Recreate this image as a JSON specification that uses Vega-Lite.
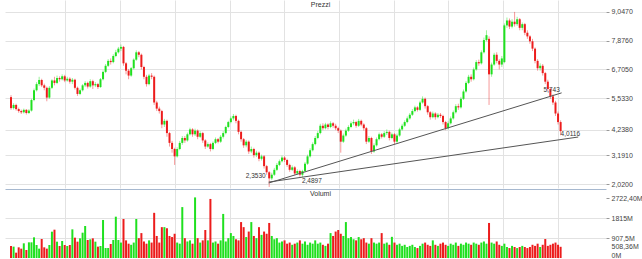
{
"$schema": "https://vega.github.io/schema/vega-lite/v6.json",
"padding": {"left": 5, "top": 0, "right": 0, "bottom": 0},
"background": "white",
"spacing": 1,
"config": {"view": {"stroke": null}, "font": "Liberation Sans"},
"datasets": {
"candles": [
{"i":0,"o":5.57,"h":5.65,"l":5.05,"c":5.12,"v":545},
{"i":1,"o":5.12,"h":5.32,"l":5.06,"c":5.25,"v":515},
{"i":2,"o":5.25,"h":5.30,"l":5.02,"c":5.08,"v":242},
{"i":3,"o":5.08,"h":5.14,"l":4.93,"c":5.00,"v":484},
{"i":4,"o":5.00,"h":5.06,"l":4.88,"c":4.95,"v":424},
{"i":5,"o":4.95,"h":5.10,"l":4.90,"c":5.05,"v":666},
{"i":6,"o":5.05,"h":5.08,"l":4.86,"c":4.92,"v":363},
{"i":7,"o":4.92,"h":5.08,"l":4.88,"c":5.02,"v":711},
{"i":8,"o":5.02,"h":5.50,"l":4.98,"c":5.45,"v":711},
{"i":9,"o":5.45,"h":5.92,"l":5.40,"c":5.85,"v":938},
{"i":10,"o":5.85,"h":6.18,"l":5.80,"c":6.10,"v":590},
{"i":11,"o":6.10,"h":6.40,"l":6.02,"c":6.27,"v":424},
{"i":12,"o":6.27,"h":6.32,"l":5.98,"c":6.05,"v":862},
{"i":13,"o":6.05,"h":6.12,"l":5.85,"c":5.95,"v":484},
{"i":14,"o":5.95,"h":6.00,"l":5.40,"c":5.55,"v":424},
{"i":15,"o":5.55,"h":6.02,"l":5.50,"c":5.95,"v":590},
{"i":16,"o":5.95,"h":6.30,"l":5.90,"c":6.25,"v":1194},
{"i":17,"o":6.25,"h":6.40,"l":6.05,"c":6.15,"v":1285},
{"i":18,"o":6.15,"h":6.45,"l":6.10,"c":6.35,"v":741},
{"i":19,"o":6.35,"h":6.42,"l":6.20,"c":6.30,"v":545},
{"i":20,"o":6.30,"h":6.50,"l":6.25,"c":6.42,"v":771},
{"i":21,"o":6.42,"h":6.48,"l":6.18,"c":6.25,"v":590},
{"i":22,"o":6.25,"h":6.40,"l":6.20,"c":6.32,"v":545},
{"i":23,"o":6.32,"h":6.38,"l":6.12,"c":6.20,"v":590},
{"i":24,"o":6.20,"h":6.35,"l":6.10,"c":6.28,"v":1300},
{"i":25,"o":6.28,"h":6.32,"l":5.88,"c":5.95,"v":922},
{"i":26,"o":5.95,"h":6.00,"l":5.62,"c":5.70,"v":741},
{"i":27,"o":5.70,"h":5.92,"l":5.65,"c":5.85,"v":892},
{"i":28,"o":5.85,"h":6.10,"l":5.80,"c":6.05,"v":1149},
{"i":29,"o":6.05,"h":6.22,"l":5.98,"c":6.15,"v":1452},
{"i":30,"o":6.15,"h":6.20,"l":5.92,"c":6.00,"v":817},
{"i":31,"o":6.00,"h":6.30,"l":5.95,"c":6.22,"v":847},
{"i":32,"o":6.22,"h":6.28,"l":5.90,"c":6.05,"v":892},
{"i":33,"o":6.05,"h":6.18,"l":5.98,"c":6.10,"v":741},
{"i":34,"o":6.10,"h":6.15,"l":5.90,"c":5.98,"v":515},
{"i":35,"o":5.98,"h":6.35,"l":5.95,"c":6.30,"v":545},
{"i":36,"o":6.30,"h":6.66,"l":6.25,"c":6.60,"v":1724},
{"i":37,"o":6.60,"h":6.92,"l":6.55,"c":6.85,"v":454},
{"i":38,"o":6.85,"h":7.12,"l":6.80,"c":7.05,"v":454},
{"i":39,"o":7.05,"h":7.15,"l":6.90,"c":7.00,"v":635},
{"i":40,"o":7.00,"h":7.32,"l":6.95,"c":7.25,"v":817},
{"i":41,"o":7.25,"h":7.50,"l":7.20,"c":7.40,"v":1875},
{"i":42,"o":7.40,"h":7.62,"l":7.35,"c":7.55,"v":817},
{"i":43,"o":7.55,"h":7.72,"l":7.45,"c":7.62,"v":700},
{"i":44,"o":7.62,"h":7.66,"l":6.85,"c":6.95,"v":1770},
{"i":45,"o":6.95,"h":7.00,"l":6.50,"c":6.65,"v":800},
{"i":46,"o":6.65,"h":6.72,"l":6.30,"c":6.45,"v":650},
{"i":47,"o":6.45,"h":6.80,"l":6.40,"c":6.75,"v":600},
{"i":48,"o":6.75,"h":7.15,"l":6.70,"c":7.10,"v":700},
{"i":49,"o":7.10,"h":7.48,"l":7.05,"c":7.40,"v":1770},
{"i":50,"o":7.40,"h":7.45,"l":7.20,"c":7.30,"v":900},
{"i":51,"o":7.30,"h":7.35,"l":6.70,"c":6.80,"v":1130},
{"i":52,"o":6.80,"h":6.85,"l":6.30,"c":6.40,"v":750},
{"i":53,"o":6.40,"h":6.48,"l":6.00,"c":6.10,"v":650},
{"i":54,"o":6.10,"h":6.52,"l":6.05,"c":6.45,"v":800},
{"i":55,"o":6.45,"h":6.55,"l":6.30,"c":6.40,"v":700},
{"i":56,"o":6.40,"h":6.45,"l":5.25,"c":5.35,"v":2050},
{"i":57,"o":5.35,"h":5.42,"l":5.00,"c":5.10,"v":1000},
{"i":58,"o":5.10,"h":5.18,"l":4.90,"c":5.00,"v":700},
{"i":59,"o":5.00,"h":5.05,"l":4.30,"c":4.45,"v":1400},
{"i":60,"o":4.45,"h":4.68,"l":4.35,"c":4.60,"v":1400},
{"i":61,"o":4.60,"h":4.65,"l":3.95,"c":4.10,"v":1350},
{"i":62,"o":4.10,"h":4.15,"l":3.55,"c":3.70,"v":1000},
{"i":63,"o":3.70,"h":3.78,"l":3.30,"c":3.45,"v":950},
{"i":64,"o":3.45,"h":3.50,"l":2.80,"c":3.15,"v":1100},
{"i":65,"o":3.15,"h":3.52,"l":3.10,"c":3.45,"v":700},
{"i":66,"o":3.45,"h":3.78,"l":3.40,"c":3.70,"v":650},
{"i":67,"o":3.70,"h":3.98,"l":3.62,"c":3.90,"v":2310},
{"i":68,"o":3.90,"h":3.98,"l":3.70,"c":3.80,"v":900},
{"i":69,"o":3.80,"h":4.12,"l":3.75,"c":4.05,"v":750},
{"i":70,"o":4.05,"h":4.32,"l":4.00,"c":4.25,"v":800},
{"i":71,"o":4.25,"h":4.30,"l":3.95,"c":4.05,"v":650},
{"i":72,"o":4.05,"h":4.28,"l":3.98,"c":4.20,"v":2750},
{"i":73,"o":4.20,"h":4.25,"l":3.85,"c":3.95,"v":900},
{"i":74,"o":3.95,"h":4.18,"l":3.90,"c":4.10,"v":700},
{"i":75,"o":4.10,"h":4.15,"l":3.70,"c":3.80,"v":800},
{"i":76,"o":3.80,"h":3.85,"l":3.45,"c":3.55,"v":1270},
{"i":77,"o":3.55,"h":3.72,"l":3.50,"c":3.65,"v":800},
{"i":78,"o":3.65,"h":3.70,"l":3.35,"c":3.45,"v":2680},
{"i":79,"o":3.45,"h":3.76,"l":3.40,"c":3.70,"v":700},
{"i":80,"o":3.70,"h":3.92,"l":3.65,"c":3.85,"v":750},
{"i":81,"o":3.85,"h":3.90,"l":3.68,"c":3.75,"v":650},
{"i":82,"o":3.75,"h":4.02,"l":3.70,"c":3.95,"v":800},
{"i":83,"o":3.95,"h":4.18,"l":3.88,"c":4.10,"v":2000},
{"i":84,"o":4.10,"h":4.40,"l":4.05,"c":4.35,"v":750},
{"i":85,"o":4.35,"h":4.60,"l":4.30,"c":4.55,"v":900},
{"i":86,"o":4.55,"h":4.78,"l":4.50,"c":4.70,"v":1130},
{"i":87,"o":4.70,"h":4.88,"l":4.62,"c":4.80,"v":1000},
{"i":88,"o":4.80,"h":4.85,"l":4.50,"c":4.60,"v":850},
{"i":89,"o":4.60,"h":4.65,"l":4.05,"c":4.15,"v":800},
{"i":90,"o":4.15,"h":4.20,"l":3.75,"c":3.85,"v":1630},
{"i":91,"o":3.85,"h":3.90,"l":3.50,"c":3.60,"v":1400},
{"i":92,"o":3.60,"h":3.82,"l":3.52,"c":3.75,"v":950},
{"i":93,"o":3.75,"h":3.80,"l":3.25,"c":3.35,"v":1200},
{"i":94,"o":3.35,"h":3.55,"l":3.28,"c":3.45,"v":1630},
{"i":95,"o":3.45,"h":3.50,"l":3.10,"c":3.20,"v":1000},
{"i":96,"o":3.20,"h":3.38,"l":3.12,"c":3.30,"v":900},
{"i":97,"o":3.30,"h":3.35,"l":2.95,"c":3.05,"v":1400},
{"i":98,"o":3.05,"h":3.22,"l":2.98,"c":3.15,"v":1050},
{"i":99,"o":3.15,"h":3.20,"l":2.65,"c":2.75,"v":1200},
{"i":100,"o":2.75,"h":2.80,"l":2.40,"c":2.50,"v":1100},
{"i":101,"o":2.50,"h":2.55,"l":1.90,"c":2.25,"v":1590},
{"i":102,"o":2.25,"h":2.48,"l":2.18,"c":2.40,"v":1000},
{"i":103,"o":2.40,"h":2.68,"l":2.35,"c":2.60,"v":850},
{"i":104,"o":2.60,"h":2.88,"l":2.55,"c":2.80,"v":900},
{"i":105,"o":2.80,"h":3.02,"l":2.75,"c":2.95,"v":700},
{"i":106,"o":2.95,"h":3.18,"l":2.90,"c":3.10,"v":750},
{"i":107,"o":3.10,"h":3.15,"l":2.92,"c":3.00,"v":800},
{"i":108,"o":3.00,"h":3.05,"l":2.72,"c":2.80,"v":650},
{"i":109,"o":2.80,"h":2.85,"l":2.52,"c":2.60,"v":700},
{"i":110,"o":2.60,"h":2.78,"l":2.55,"c":2.70,"v":600},
{"i":111,"o":2.70,"h":2.75,"l":2.38,"c":2.45,"v":650},
{"i":112,"o":2.45,"h":2.62,"l":2.40,"c":2.55,"v":700},
{"i":113,"o":2.55,"h":2.60,"l":2.32,"c":2.40,"v":800},
{"i":114,"o":2.40,"h":2.60,"l":2.30,"c":2.55,"v":650},
{"i":115,"o":2.55,"h":2.92,"l":2.50,"c":2.85,"v":750},
{"i":116,"o":2.85,"h":3.22,"l":2.80,"c":3.15,"v":600},
{"i":117,"o":3.15,"h":3.48,"l":3.10,"c":3.40,"v":700},
{"i":118,"o":3.40,"h":3.72,"l":3.35,"c":3.65,"v":650},
{"i":119,"o":3.65,"h":3.98,"l":3.60,"c":3.90,"v":800},
{"i":120,"o":3.90,"h":4.18,"l":3.85,"c":4.10,"v":650},
{"i":121,"o":4.10,"h":4.48,"l":4.05,"c":4.40,"v":700},
{"i":122,"o":4.40,"h":4.50,"l":4.22,"c":4.30,"v":600},
{"i":123,"o":4.30,"h":4.52,"l":4.25,"c":4.45,"v":550},
{"i":124,"o":4.45,"h":4.50,"l":4.25,"c":4.35,"v":650},
{"i":125,"o":4.35,"h":4.58,"l":4.30,"c":4.50,"v":1130},
{"i":126,"o":4.50,"h":4.55,"l":4.32,"c":4.40,"v":1000},
{"i":127,"o":4.40,"h":4.48,"l":4.22,"c":4.30,"v":1200},
{"i":128,"o":4.30,"h":4.36,"l":4.10,"c":4.20,"v":1270},
{"i":129,"o":4.20,"h":4.25,"l":3.30,"c":3.75,"v":1100},
{"i":130,"o":3.75,"h":4.08,"l":3.70,"c":4.00,"v":1000},
{"i":131,"o":4.00,"h":4.28,"l":3.95,"c":4.20,"v":1630},
{"i":132,"o":4.20,"h":4.42,"l":4.15,"c":4.35,"v":900},
{"i":133,"o":4.35,"h":4.58,"l":4.30,"c":4.50,"v":950},
{"i":134,"o":4.50,"h":4.65,"l":4.42,"c":4.55,"v":850},
{"i":135,"o":4.55,"h":4.60,"l":4.32,"c":4.40,"v":800},
{"i":136,"o":4.40,"h":4.68,"l":4.35,"c":4.60,"v":950},
{"i":137,"o":4.60,"h":4.65,"l":4.38,"c":4.45,"v":850},
{"i":138,"o":4.45,"h":4.50,"l":4.20,"c":4.30,"v":900},
{"i":139,"o":4.30,"h":4.35,"l":3.65,"c":3.75,"v":700},
{"i":140,"o":3.75,"h":3.98,"l":3.70,"c":3.90,"v":650},
{"i":141,"o":3.90,"h":3.95,"l":3.25,"c":3.35,"v":900},
{"i":142,"o":3.35,"h":3.68,"l":3.30,"c":3.60,"v":700},
{"i":143,"o":3.60,"h":3.92,"l":3.55,"c":3.85,"v":650},
{"i":144,"o":3.85,"h":4.12,"l":3.80,"c":4.05,"v":700},
{"i":145,"o":4.05,"h":4.10,"l":3.88,"c":3.95,"v":1130},
{"i":146,"o":3.95,"h":4.18,"l":3.90,"c":4.10,"v":650},
{"i":147,"o":4.10,"h":4.25,"l":4.02,"c":4.15,"v":700},
{"i":148,"o":4.15,"h":4.20,"l":3.80,"c":3.90,"v":600},
{"i":149,"o":3.90,"h":4.12,"l":3.85,"c":4.05,"v":960},
{"i":150,"o":4.05,"h":4.10,"l":3.65,"c":3.75,"v":700},
{"i":151,"o":3.75,"h":4.08,"l":3.70,"c":4.00,"v":600},
{"i":152,"o":4.00,"h":4.32,"l":3.95,"c":4.25,"v":650},
{"i":153,"o":4.25,"h":4.48,"l":4.20,"c":4.40,"v":550},
{"i":154,"o":4.40,"h":4.62,"l":4.35,"c":4.55,"v":600},
{"i":155,"o":4.55,"h":4.78,"l":4.50,"c":4.70,"v":500},
{"i":156,"o":4.70,"h":4.92,"l":4.65,"c":4.85,"v":550},
{"i":157,"o":4.85,"h":5.08,"l":4.80,"c":5.00,"v":600},
{"i":158,"o":5.00,"h":5.22,"l":4.95,"c":5.15,"v":500},
{"i":159,"o":5.15,"h":5.20,"l":4.98,"c":5.05,"v":450},
{"i":160,"o":5.05,"h":5.42,"l":5.00,"c":5.35,"v":550},
{"i":161,"o":5.35,"h":5.60,"l":5.30,"c":5.50,"v":650},
{"i":162,"o":5.50,"h":5.55,"l":5.10,"c":5.20,"v":700},
{"i":163,"o":5.20,"h":5.25,"l":4.85,"c":4.95,"v":600},
{"i":164,"o":4.95,"h":5.00,"l":4.65,"c":4.75,"v":550},
{"i":165,"o":4.75,"h":4.98,"l":4.70,"c":4.90,"v":800},
{"i":166,"o":4.90,"h":4.95,"l":4.65,"c":4.75,"v":600},
{"i":167,"o":4.75,"h":4.92,"l":4.70,"c":4.85,"v":550},
{"i":168,"o":4.85,"h":4.92,"l":4.72,"c":4.80,"v":650},
{"i":169,"o":4.80,"h":4.85,"l":4.45,"c":4.55,"v":700},
{"i":170,"o":4.55,"h":4.60,"l":4.22,"c":4.30,"v":600},
{"i":171,"o":4.30,"h":4.58,"l":4.25,"c":4.50,"v":550},
{"i":172,"o":4.50,"h":4.78,"l":4.45,"c":4.70,"v":650},
{"i":173,"o":4.70,"h":5.02,"l":4.65,"c":4.95,"v":600},
{"i":174,"o":4.95,"h":5.28,"l":4.90,"c":5.20,"v":700},
{"i":175,"o":5.20,"h":5.30,"l":5.05,"c":5.15,"v":550},
{"i":176,"o":5.15,"h":5.58,"l":5.10,"c":5.50,"v":650},
{"i":177,"o":5.50,"h":5.88,"l":5.45,"c":5.80,"v":600},
{"i":178,"o":5.80,"h":6.22,"l":5.75,"c":6.15,"v":700},
{"i":179,"o":6.15,"h":6.48,"l":6.10,"c":6.40,"v":650},
{"i":180,"o":6.40,"h":6.50,"l":6.20,"c":6.30,"v":600},
{"i":181,"o":6.30,"h":6.78,"l":6.25,"c":6.70,"v":700},
{"i":182,"o":6.70,"h":7.08,"l":6.65,"c":7.00,"v":650},
{"i":183,"o":7.00,"h":7.10,"l":6.85,"c":6.95,"v":600},
{"i":184,"o":6.95,"h":7.48,"l":6.90,"c":7.40,"v":700},
{"i":185,"o":7.40,"h":8.00,"l":7.35,"c":7.90,"v":750},
{"i":186,"o":7.90,"h":8.30,"l":7.85,"c":8.10,"v":650},
{"i":187,"o":7.95,"h":8.05,"l":5.25,"c":6.50,"v":1590},
{"i":188,"o":6.50,"h":6.98,"l":6.40,"c":6.90,"v":700},
{"i":189,"o":6.90,"h":7.38,"l":6.85,"c":7.30,"v":650},
{"i":190,"o":7.30,"h":7.40,"l":6.95,"c":7.05,"v":750},
{"i":191,"o":7.05,"h":7.12,"l":6.70,"c":6.90,"v":600},
{"i":192,"o":6.90,"h":7.25,"l":6.80,"c":7.15,"v":550},
{"i":193,"o":7.00,"h":8.58,"l":6.95,"c":8.50,"v":650},
{"i":194,"o":8.50,"h":8.82,"l":8.40,"c":8.70,"v":500},
{"i":195,"o":8.70,"h":8.78,"l":8.35,"c":8.45,"v":450},
{"i":196,"o":8.45,"h":8.75,"l":8.38,"c":8.65,"v":550},
{"i":197,"o":8.65,"h":9.05,"l":8.45,"c":8.55,"v":500},
{"i":198,"o":8.55,"h":8.85,"l":8.48,"c":8.75,"v":450},
{"i":199,"o":8.75,"h":8.80,"l":8.30,"c":8.40,"v":500},
{"i":200,"o":8.40,"h":8.62,"l":8.30,"c":8.55,"v":550},
{"i":201,"o":8.55,"h":8.60,"l":8.10,"c":8.20,"v":500},
{"i":202,"o":8.20,"h":8.30,"l":7.95,"c":8.05,"v":450},
{"i":203,"o":8.05,"h":8.10,"l":7.75,"c":7.85,"v":500},
{"i":204,"o":7.85,"h":7.95,"l":7.45,"c":7.55,"v":600},
{"i":205,"o":7.55,"h":7.60,"l":6.95,"c":7.05,"v":550},
{"i":206,"o":7.05,"h":7.12,"l":6.65,"c":6.75,"v":650},
{"i":207,"o":6.75,"h":6.95,"l":6.65,"c":6.85,"v":500},
{"i":208,"o":6.85,"h":6.92,"l":6.45,"c":6.55,"v":600},
{"i":209,"o":6.55,"h":6.60,"l":6.10,"c":6.20,"v":860},
{"i":210,"o":6.20,"h":6.28,"l":5.80,"c":5.90,"v":550},
{"i":211,"o":5.90,"h":5.95,"l":5.50,"c":5.60,"v":600},
{"i":212,"o":5.60,"h":5.68,"l":5.25,"c":5.35,"v":650},
{"i":213,"o":5.35,"h":5.42,"l":4.80,"c":4.90,"v":700},
{"i":214,"o":4.90,"h":4.98,"l":4.45,"c":4.55,"v":600},
{"i":215,"o":4.55,"h":4.62,"l":4.0116,"c":4.18,"v":508.36}
],
"lines": [
{"line":"a","i":100.8,"p":2.06},
{"line":"a","i":215.4,"p":5.743},
{"line":"b","i":100.8,"p":2.10},
{"line":"b","i":221.9,"p":3.94}
]
},
"vconcat": [
{
"width": 601,
"height": 188,
"title": {"text": "Prezzi", "fontSize": 7, "fontWeight": "normal", "color": "#333333", "offset": -8, "dx": 15, "font": "Liberation Sans"},
"encoding": {
"x": {"field": "i", "type": "quantitative", "scale": {"domain": [-0.4, 230.8], "nice": false, "zero": false},
"axis": {"title": null, "labels": false, "ticks": false, "domain": false, "grid": true, "gridColor": "#e2e2e2", "tickCount": 20, "values": [21.27, 42.67, 64.07, 85.47, 106.87, 128.27, 149.67, 171.07, 192.47, 213.87]}}
},
"layer": [
{"data": {"name": "candles"}, "mark": {"type": "rule", "strokeWidth": 1, "opacity": 0.45},
"encoding": {
"y": {"field": "l", "type": "quantitative", "title": null, "scale": {"domain": [1.857, 9.537], "nice": false, "zero": false},
"axis": {"orient": "right", "title": null, "tickCount": 20, "values": [2.02, 3.191, 4.238, 5.533, 6.705, 7.876, 9.047], "labelExpr": "replace(format(datum.value, '.4f'), '.', ',')", "grid": true, "gridColor": "#e2e2e2", "domain": false, "ticks": true, "tickSize": 3, "tickColor": "#999999", "labelFontSize": 7, "labelColor": "#444444", "labelPadding": 2, "labelOverlap": false, "labelFont": "Liberation Sans"}},
"y2": {"field": "h"},
"color": {"condition": {"test": "datum.c >= datum.o", "value": "#1fe01f"}, "value": "#ec1c1c"}
}},
{"data": {"name": "candles"}, "mark": {"type": "bar", "width": 2},
"encoding": {
"y": {"field": "o", "type": "quantitative", "title": null, "scale": {"domain": [1.857, 9.537], "nice": false, "zero": false},
"axis": {"orient": "right", "title": null, "tickCount": 20, "values": [2.02, 3.191, 4.238, 5.533, 6.705, 7.876, 9.047], "labelExpr": "replace(format(datum.value, '.4f'), '.', ',')", "grid": true, "gridColor": "#e2e2e2", "domain": false, "ticks": true, "tickSize": 3, "tickColor": "#999999", "labelFontSize": 7, "labelColor": "#444444", "labelPadding": 2, "labelOverlap": false, "labelFont": "Liberation Sans"}},
"y2": {"field": "c"},
"color": {"condition": {"test": "datum.c >= datum.o", "value": "#1fe01f"}, "value": "#ec1c1c"}
}},
{"data": {"name": "lines"}, "mark": {"type": "line", "color": "#555555", "strokeWidth": 1},
"encoding": {
"y": {"field": "p", "type": "quantitative", "title": null, "scale": {"domain": [1.857, 9.537], "nice": false, "zero": false},
"axis": {"orient": "right", "title": null, "tickCount": 20, "values": [2.02, 3.191, 4.238, 5.533, 6.705, 7.876, 9.047], "labelExpr": "replace(format(datum.value, '.4f'), '.', ',')", "grid": true, "gridColor": "#e2e2e2", "domain": false, "ticks": true, "tickSize": 3, "tickColor": "#999999", "labelFontSize": 7, "labelColor": "#444444", "labelPadding": 2, "labelOverlap": false, "labelFont": "Liberation Sans"}},
"detail": {"field": "line"}
}},
{"data": {"values": [{"i": 99.6, "p": 2.35, "t": "2,3530"}]}, "mark": {"type": "text", "fontSize": 6.5, "color": "#333333", "align": "right", "baseline": "middle"},
"encoding": {"y": {"field": "p", "type": "quantitative", "title": null, "scale": {"domain": [1.857, 9.537], "nice": false, "zero": false},
"axis": {"orient": "right", "title": null, "tickCount": 20, "values": [2.02, 3.191, 4.238, 5.533, 6.705, 7.876, 9.047], "labelExpr": "replace(format(datum.value, '.4f'), '.', ',')", "grid": true, "gridColor": "#e2e2e2", "domain": false, "ticks": true, "tickSize": 3, "tickColor": "#999999", "labelFontSize": 7, "labelColor": "#444444", "labelPadding": 2, "labelOverlap": false, "labelFont": "Liberation Sans"}}, "text": {"field": "t"}}},
{"data": {"values": [{"i": 113.8, "p": 2.143, "t": "2,4897"}, {"i": 215, "p": 4.083, "t": "4,0116"}]}, "mark": {"type": "text", "fontSize": 6.5, "color": "#333333", "align": "left", "baseline": "middle"},
"encoding": {"y": {"field": "p", "type": "quantitative", "title": null, "scale": {"domain": [1.857, 9.537], "nice": false, "zero": false},
"axis": {"orient": "right", "title": null, "tickCount": 20, "values": [2.02, 3.191, 4.238, 5.533, 6.705, 7.876, 9.047], "labelExpr": "replace(format(datum.value, '.4f'), '.', ',')", "grid": true, "gridColor": "#e2e2e2", "domain": false, "ticks": true, "tickSize": 3, "tickColor": "#999999", "labelFontSize": 7, "labelColor": "#444444", "labelPadding": 2, "labelOverlap": false, "labelFont": "Liberation Sans"}}, "text": {"field": "t"}}},
{"data": {"values": [{"i": 211.5, "p": 5.86, "t": "5,743"}]}, "mark": {"type": "text", "fontSize": 6.5, "color": "#333333", "align": "center", "baseline": "middle"},
"encoding": {"y": {"field": "p", "type": "quantitative", "title": null, "scale": {"domain": [1.857, 9.537], "nice": false, "zero": false},
"axis": {"orient": "right", "title": null, "tickCount": 20, "values": [2.02, 3.191, 4.238, 5.533, 6.705, 7.876, 9.047], "labelExpr": "replace(format(datum.value, '.4f'), '.', ',')", "grid": true, "gridColor": "#e2e2e2", "domain": false, "ticks": true, "tickSize": 3, "tickColor": "#999999", "labelFontSize": 7, "labelColor": "#444444", "labelPadding": 2, "labelOverlap": false, "labelFont": "Liberation Sans"}}, "text": {"field": "t"}}},
{"data": {"values": [{}]}, "mark": {"type": "rule", "color": "#c4c4c4", "strokeWidth": 1},
"encoding": {"x": {"datum": -0.4}}},
{"data": {"values": [{}]}, "mark": {"type": "rule", "color": "#9c9c9c", "strokeWidth": 4},
"encoding": {"y": {"datum": 9.537}}}
]
},
{
"width": 601,
"height": 69,
"title": {"text": "Volumi", "fontSize": 7, "fontWeight": "normal", "color": "#333333", "offset": -8, "dx": 15, "font": "Liberation Sans"},
"encoding": {
"x": {"field": "i", "type": "quantitative", "scale": {"domain": [-0.4, 230.8], "nice": false, "zero": false},
"axis": {"orient": "top", "title": null, "labels": false, "ticks": false, "domain": true, "domainColor": "#a6b8cf", "grid": true, "gridColor": "#e2e2e2", "tickCount": 20, "values": [21.27, 42.67, 64.07, 85.47, 106.87, 128.27, 149.67, 171.07, 192.47, 213.87]}}
},
"layer": [
{"data": {"name": "candles"}, "mark": {"type": "bar", "width": 2},
"encoding": {
"y": {"field": "v", "type": "quantitative", "scale": {"domain": [0, 3131], "nice": false},
"axis": {"orient": "right", "title": null, "tickCount": 20, "values": [0, 508.36, 907.5, 1815, 2722.4], "labelExpr": "datum.value == 0 ? '0M' : datum.value == 508.36 ? '508,36M' : datum.value == 907.5 ? '907,5M' : datum.value == 1815 ? '1815M' : '2722,40M'", "grid": true, "gridColor": {"condition": {"test": "datum.value == 907.5 || datum.value == 1815", "value": "#e2e2e2"}, "value": "rgba(0,0,0,0)"}, "domain": false, "ticks": true, "tickSize": 3, "tickColor": {"condition": {"test": "datum.value == 508.36 || datum.value == 0", "value": "rgba(0,0,0,0)"}, "value": "#999999"}, "labelFontSize": 7, "labelColor": "#444444", "labelPadding": 2, "labelOverlap": false, "labelFlush": true, "labelFont": "Liberation Sans"}},
"color": {"condition": {"test": "datum.c >= datum.o", "value": "#1fe01f"}, "value": "#ec1c1c"}
}},
{"data": {"values": [{}]}, "mark": {"type": "rule", "color": "#c4c4c4", "strokeWidth": 1},
"encoding": {"x": {"datum": -0.4}}}
]
}
]
}
